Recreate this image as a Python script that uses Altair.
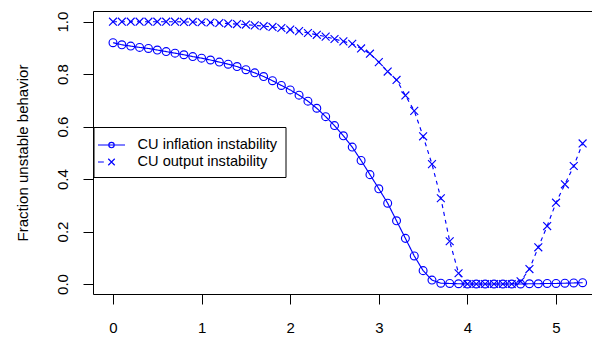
import altair as alt
import pandas as pd

# ---- data ----
x_vals = [0.0, 0.1, 0.2, 0.3, 0.4, 0.5, 0.6, 0.7, 0.8, 0.9,
          1.0, 1.1, 1.2, 1.3, 1.4, 1.5, 1.6, 1.7, 1.8, 1.9,
          2.0, 2.1, 2.2, 2.3, 2.4, 2.5, 2.6, 2.7, 2.8, 2.9,
          3.0, 3.1, 3.2, 3.3, 3.4, 3.5, 3.6, 3.7, 3.8, 3.9,
          4.0, 4.1, 4.2, 4.3, 4.4, 4.5, 4.6, 4.7, 4.8, 4.9,
          5.0, 5.1, 5.2, 5.3]

inflation = [0.920, 0.912, 0.907, 0.902, 0.898, 0.892, 0.886, 0.880, 0.874, 0.867,
             0.861, 0.854, 0.846, 0.838, 0.829, 0.817, 0.805, 0.791, 0.775, 0.757,
             0.740, 0.720, 0.697, 0.670, 0.638, 0.604, 0.565, 0.522, 0.471, 0.417,
             0.363, 0.308, 0.241, 0.174, 0.107, 0.051, 0.015, 0.003, 0.002, 0.001,
             0.000, 0.000, 0.000, 0.000, 0.000, 0.000, 0.000, 0.001, 0.001, 0.002,
             0.002, 0.003, 0.004, 0.005]

output = [1.000, 1.000, 1.000, 1.000, 1.000, 1.000, 1.000, 1.000, 0.999, 0.999,
          0.998, 0.997, 0.995, 0.993, 0.991, 0.989, 0.986, 0.983, 0.980, 0.976,
          0.970, 0.964, 0.957, 0.950, 0.943, 0.934, 0.925, 0.916, 0.898, 0.878,
          0.846, 0.810, 0.778, 0.719, 0.660, 0.563, 0.457, 0.327, 0.163, 0.041,
          0.000, 0.000, 0.000, 0.000, 0.000, 0.000, 0.010, 0.057, 0.140, 0.221,
          0.310, 0.380, 0.450, 0.536]

series_names = ["CU inflation instability", "CU output instability"]
x_ticks = [0, 1, 2, 3, 4, 5]
y_ticks = [0.0, 0.2, 0.4, 0.6, 0.8, 1.0]

rows = []
for name, vals in zip(series_names, [inflation, output]):
    for xv, yv in zip(x_vals, vals):
        rows.append({"x": xv, "y": yv, "series": name})
df = pd.DataFrame(rows)

BLUE = "#0000FF"
FONT = "Liberation Sans"
FS = 15
SW = 1.15

X_PATH = "M-1,-1L1,1M-1,1L1,-1"
LEG_CIRCLE = "M-1.5,0L1.5,0M-0.3,0A0.3,0.3 0 1,0 0.3,0A0.3,0.3 0 1,0 -0.3,0"
LEG_CROSS = "M-1.5,0L-0.85,0M-0.36,-0.36L0.36,0.36M-0.36,0.36L0.36,-0.36"

xscale = alt.Scale(domain=[-0.2257, 5.406], nice=False, zero=False)
yscale = alt.Scale(domain=[-0.0381, 1.0408], nice=False, zero=False)

x_axis = alt.Axis(orient="bottom", values=x_ticks, format="d", tickSize=10, labelPadding=16,
                  labelFontSize=FS, labelFontWeight="normal", labelAngle=0, grid=False,
                  title=None, domainColor="black", tickColor="black", labelColor="black")
y_axis = alt.Axis(values=y_ticks, format=".1f", tickSize=10, labelPadding=16,
                  labelFontSize=FS, labelAngle=270, labelAlign="center",
                  labelBaseline="alphabetic", grid=False,
                  title="Fraction unstable behavior", titleFontSize=FS,
                  titleFontWeight="normal", titleAngle=270, titleAlign="center",
                  titleBaseline="alphabetic", titleX=-66, titleY=141.5,
                  domainColor="black", tickColor="black", labelColor="black",
                  titleColor="black")

base = alt.Chart(df)

lines = base.mark_line(color=BLUE, strokeWidth=SW).encode(
    x=alt.X("x:Q", scale=xscale, axis=x_axis),
    y=alt.Y("y:Q", scale=yscale, axis=y_axis),
    detail="series:N",
    strokeDash=alt.StrokeDash("series:N",
                              scale=alt.Scale(domain=series_names, range=[[1, 0], [4, 4]]),
                              legend=None),
)

points = base.mark_point(filled=False, color=BLUE, strokeWidth=SW, size=62, opacity=1).encode(
    x=alt.X("x:Q", scale=xscale,
            axis=alt.Axis(orient="top", labels=False, ticks=False, grid=False,
                          title=None, domainColor="black")),
    y=alt.Y("y:Q", scale=yscale),
    shape=alt.Shape("series:N",
                    scale=alt.Scale(domain=series_names, range=["circle", X_PATH]),
                    legend=None),
)

legend_layer = base.transform_filter("false").mark_point(
    filled=False, color=BLUE, strokeWidth=SW, opacity=1
).encode(
    shape=alt.Shape("series:N",
                    scale=alt.Scale(domain=series_names, range=[LEG_CIRCLE, LEG_CROSS]),
                    legend=alt.Legend(orient="none", legendX=0.5, legendY=116, title=None,
                                      padding=8, symbolSize=324, labelOffset=16,
                                      rowPadding=0, labelFontSize=14.6, labelFont=FONT,
                                      labelColor="black", strokeColor="black",
                                      fillColor="white", cornerRadius=0,
                                      symbolStrokeColor=BLUE, symbolStrokeWidth=SW,
                                      labelLimit=400)),
)

chart = alt.layer(lines, points, legend_layer).resolve_scale(
    shape="independent"
).resolve_axis(
    x="independent"
).properties(
    width=499, height=283,
    autosize=alt.AutoSizeParams(type="none"),
    padding={"left": 93, "top": 11, "right": 0, "bottom": 44},
    background="white",
).configure_view(stroke="transparent").configure(font=FONT)

chart.save("out.html", embed_options={"renderer": "svg", "actions": False})
